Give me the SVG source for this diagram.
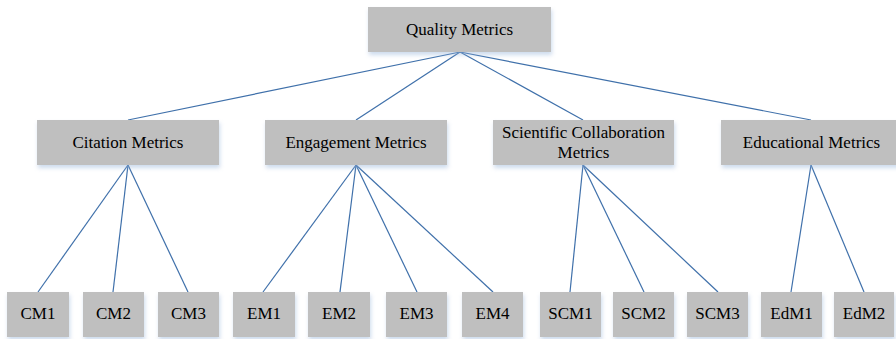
<svg xmlns="http://www.w3.org/2000/svg" width="896" height="339" viewBox="0 0 896 339">
<defs>
<filter id="sh" x="-10%" y="-20%" width="120%" height="160%">
<feDropShadow dx="1" dy="3" stdDeviation="2" flood-color="#8fb0d8" flood-opacity="0.45"/>
</filter>
</defs>
<style>
.box{fill:#bfbfbf;filter:url(#sh)}
.t{font-family:"Liberation Serif","Times New Roman",serif;font-size:17px;fill:#000;text-anchor:middle}
.c line{stroke:#3f70aa;stroke-width:1.2}
</style>
<rect width="896" height="339" fill="#fff"/>
<g class="c" id="connectors">
<line x1="460" y1="52" x2="128" y2="120"/>
<line x1="460" y1="52" x2="356" y2="120"/>
<line x1="460" y1="52" x2="583" y2="120"/>
<line x1="460" y1="52" x2="811" y2="120"/>
<line x1="128" y1="165" x2="38" y2="292"/>
<line x1="128" y1="165" x2="113" y2="292"/>
<line x1="128" y1="165" x2="188" y2="292"/>
<line x1="356" y1="165" x2="263" y2="292"/>
<line x1="356" y1="165" x2="340" y2="292"/>
<line x1="356" y1="165" x2="417" y2="292"/>
<line x1="356" y1="165" x2="493" y2="292"/>
<line x1="583" y1="165" x2="570" y2="292"/>
<line x1="583" y1="165" x2="644" y2="292"/>
<line x1="583" y1="165" x2="718" y2="292"/>
<line x1="811" y1="165" x2="791" y2="292"/>
<line x1="811" y1="165" x2="864" y2="292"/>
</g>
<g id="quality"><rect class="box" x="368" y="7" width="183" height="45"/><text class="t" x="459.5" y="35">Quality Metrics</text></g>
<g id="citation"><rect class="box" x="37" y="120" width="182" height="45"/><text class="t" x="128" y="148">Citation Metrics</text></g>
<g id="engagement"><rect class="box" x="265" y="120" width="182" height="45"/><text class="t" x="356" y="148">Engagement Metrics</text></g>
<g id="scientific"><rect class="box" x="493" y="120" width="181" height="45"/><text class="t" x="583.5" y="138">Scientific Collaboration</text><text class="t" x="583.5" y="157.5">Metrics</text></g>
<g id="educational"><rect class="box" x="721" y="120" width="181" height="45"/><text class="t" x="811.5" y="148">Educational Metrics</text></g>
<g id="cm1"><rect class="box" x="7" y="292" width="62" height="45"/><text class="t" x="38" y="319">CM1</text></g>
<g id="cm2"><rect class="box" x="83" y="292" width="61" height="45"/><text class="t" x="113.5" y="319">CM2</text></g>
<g id="cm3"><rect class="box" x="158" y="292" width="61" height="45"/><text class="t" x="188.5" y="319">CM3</text></g>
<g id="em1"><rect class="box" x="233" y="292" width="62" height="45"/><text class="t" x="264" y="319">EM1</text></g>
<g id="em2"><rect class="box" x="308" y="292" width="62" height="45"/><text class="t" x="339" y="319">EM2</text></g>
<g id="em3"><rect class="box" x="386" y="292" width="61" height="45"/><text class="t" x="416.5" y="319">EM3</text></g>
<g id="em4"><rect class="box" x="462" y="292" width="61" height="45"/><text class="t" x="492.5" y="319">EM4</text></g>
<g id="scm1"><rect class="box" x="540" y="292" width="61" height="45"/><text class="t" x="570.5" y="319">SCM1</text></g>
<g id="scm2"><rect class="box" x="613" y="292" width="61" height="45"/><text class="t" x="643.5" y="319">SCM2</text></g>
<g id="scm3"><rect class="box" x="687" y="292" width="61" height="45"/><text class="t" x="717.5" y="319">SCM3</text></g>
<g id="edm1"><rect class="box" x="761" y="292" width="61" height="45"/><text class="t" x="791.5" y="319">EdM1</text></g>
<g id="edm2"><rect class="box" x="834" y="292" width="60" height="45"/><text class="t" x="864" y="319">EdM2</text></g>
</svg>
